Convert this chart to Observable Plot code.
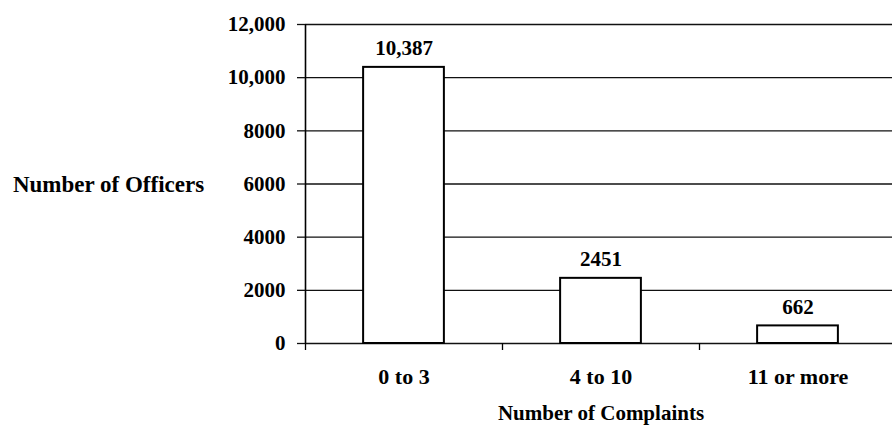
<!DOCTYPE html>
<html>
<head>
<meta charset="utf-8">
<script src="https://cdn.jsdelivr.net/npm/d3@7"></script>
<script src="https://cdn.jsdelivr.net/npm/@observablehq/plot@0.6"></script>
<style>
  html, body { margin: 0; padding: 0; background: #fff; overflow: hidden; }
  #chart svg { overflow: hidden; display: block; }
</style>
</head>
<body>
<div id="chart"></div>
<script>
const categories = ["0 to 3", "4 to 10", "11 or more"];
const officers = [10387, 2451, 662];
const valueLabels = ["10,387", "2451", "662"];
const yTicks = [0, 2000, 4000, 6000, 8000, 10000, 12000];
const yTickLabels = ["0", "2000", "4000", "6000", "8000", "10,000", "12,000"];
const xBoundaries = [0, 1, 2, 3];
const yTitle = "Number of Officers";
const xTitle = "Number of Complaints";

const rows = categories.map((c, i) => ({ c, v: officers[i], label: valueLabels[i], i }));
const font = "'Liberation Serif', 'Times New Roman', serif";

const chart = Plot.plot({
  width: 892,
  height: 425,
  marginLeft: 305,
  marginRight: -4,
  marginTop: 24,
  marginBottom: 82,
  style: { fontFamily: font, fontSize: "21px", fontWeight: "bold", color: "#000", background: "#fff" },
  x: { type: "linear", domain: [0, 3] },
  y: { domain: [0, 12000] },
  marks: [
    Plot.ruleY(yTicks.slice(1), { stroke: "#111", strokeWidth: 1.3 }),
    Plot.ruleY([0], { stroke: "#111", strokeWidth: 1.6 }),
    Plot.ruleX([0], { y1: 0, y2: 12000, stroke: "#000", strokeWidth: 1.6 }),
    Plot.axisY({
      ticks: yTicks,
      tickFormat: (d) => yTickLabels[yTicks.indexOf(d)],
      tickSize: 8,
      tickPadding: 12,
      label: null,
      stroke: "#111",
      strokeWidth: 1.3,
      fontSize: 21,
      fontWeight: "bold"
    }),
    Plot.axisX({
      ticks: xBoundaries,
      tickFormat: () => "",
      tickSize: 7,
      label: null,
      strokeWidth: 1.3
    }),
    Plot.axisX({
      ticks: categories.map((c, i) => i + 0.5),
      tickFormat: (d) => categories[Math.floor(d)],
      tickSize: 0,
      tickPadding: 25,
      label: null,
      fontSize: 22,
      fontWeight: "bold"
    }),
    Plot.rectY(rows, {
      x1: (d) => d.i + 0.295,
      x2: (d) => d.i + 0.705,
      y1: 0,
      y2: "v",
      fill: "#fff",
      stroke: "#000",
      strokeWidth: 2
    }),
    Plot.text(rows, {
      x: (d) => d.i + 0.5,
      y: "v",
      text: "label",
      dy: -12,
      lineAnchor: "bottom",
      fontSize: 21,
      fontWeight: "bold",
      fill: "#000"
    }),
    Plot.text([yTitle], {
      frameAnchor: "left",
      dx: -197,
      dy: 1,
      textAnchor: "middle",
      text: (d) => d,
      fontSize: 23,
      fontWeight: "bold",
      fill: "#000"
    }),
    Plot.text([xTitle], {
      frameAnchor: "bottom",
      dy: 70,
      textAnchor: "middle",
      lineAnchor: "middle",
      text: (d) => d,
      fontSize: 21,
      fontWeight: "bold",
      fill: "#000"
    })
  ]
});
document.getElementById("chart").appendChild(chart);
</script>
</body>
</html>
